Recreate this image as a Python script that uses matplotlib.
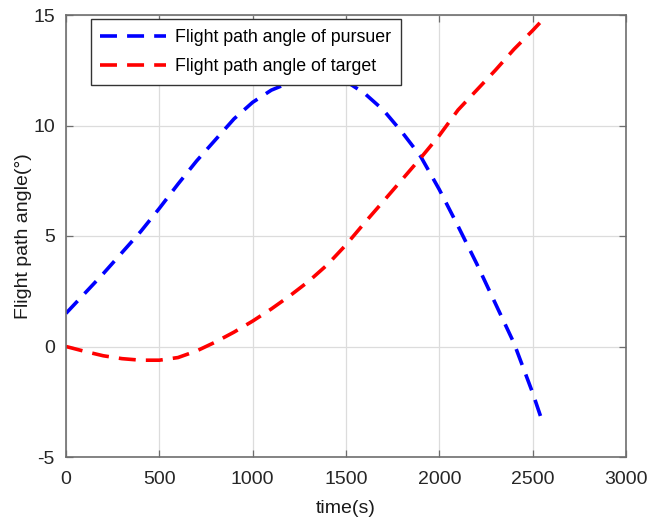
import numpy as np
import matplotlib
matplotlib.use("Agg")
from matplotlib import pyplot as plt

# time samples (s)
t = [0, 100, 200, 300, 400, 500, 600, 700, 800, 900, 1000, 1100, 1200, 1300,
     1400, 1500, 1600, 1700, 1800, 1900, 2000, 2100, 2200, 2300, 2400, 2500, 2550]

# flight path angle of pursuer (deg)
pursuer = [1.5, 2.4, 3.3, 4.25, 5.2, 6.25, 7.35, 8.4, 9.35, 10.3, 11.05, 11.6, 11.95, 12.2,
           12.25, 12.0, 11.45, 10.7, 9.7, 8.6, 7.1, 5.45, 3.75, 1.95, 0.15, -2.1, -3.35]

# flight path angle of target (deg)
target = [0.0, -0.22, -0.42, -0.55, -0.62, -0.62, -0.5, -0.2, 0.2, 0.65, 1.15, 1.7, 2.3, 2.95,
          3.7, 4.6, 5.6, 6.57, 7.55, 8.53, 9.55, 10.7, 11.6, 12.5, 13.45, 14.3, 14.75]

xticks = [0, 500, 1000, 1500, 2000, 2500, 3000]
yticks = [-5, 0, 5, 10, 15]

plt.rcParams['font.family'] = ['Liberation Sans', 'DejaVu Sans']
plt.rcParams['axes.unicode_minus'] = False

fig = plt.figure(figsize=(6.49, 5.21), dpi=100)
ax = fig.add_axes([66 / 649, 64 / 521, 560 / 649, 442 / 521])

dash = (0, (4.7, 2.8))
ax.plot(t, pursuer, color='#0000ff', lw=2.6, linestyle=dash, label='Flight path angle of pursuer')
ax.plot(t, target, color='#ff0000', lw=2.6, linestyle=dash, label='Flight path angle of target')

ax.set_xlim(0, 3000)
ax.set_ylim(-5, 15)
ax.set_xticks(xticks)
ax.set_yticks(yticks)
ax.grid(True, color='#dcdcdc', lw=0.9)
ax.set_axisbelow(True)

for s in ax.spines.values():
    s.set_color('#6e6e6e')
    s.set_linewidth(1.2)
ax.tick_params(direction='in', top=True, right=True, length=5, width=0.9,
               color='#6e6e6e', labelsize=14, labelcolor='#262626')
ax.tick_params(axis='x', pad=10)
ax.tick_params(axis='y', pad=8)

ax.set_xlabel('time(s)', fontsize=14, color='#1a1a1a', labelpad=9)
ax.set_ylabel('Flight path angle(°)', fontsize=14, color='#1a1a1a', labelpad=1)

leg = ax.legend(loc='upper left', bbox_to_anchor=(0.044, 0.99), fontsize=12.8,
                frameon=True, fancybox=False, handlelength=3.7, handletextpad=0.5,
                borderpad=0.55, labelspacing=0.65, borderaxespad=0)
leg.get_frame().set_edgecolor('#333333')
leg.get_frame().set_linewidth(1.0)
leg.get_frame().set_alpha(1)

fig.savefig('out.png', dpi=100)
